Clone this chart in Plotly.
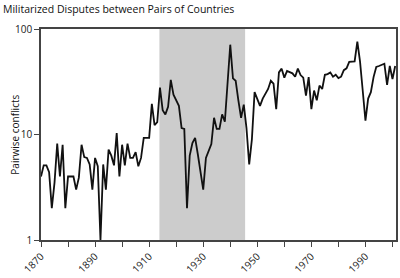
import plotly.graph_objects as go

start_year = 1870
conflicts = [
    4.0, 5.1, 5.1, 4.4, 2.0, 3.5, 8.2, 4.0, 8.0, 2.0,      # 1870-1879
    4.0, 4.0, 4.0, 3.0, 3.9, 8.0, 6.1, 6.0, 5.2, 3.0,      # 1880-1889
    6.0, 5.0, 1.0, 5.2, 3.0, 7.2, 6.3, 5.1, 10.3, 4.0,     # 1890-1899
    8.0, 5.1, 8.2, 6.0, 6.0, 6.8, 5.0, 6.0, 9.3, 9.3,      # 1900-1909
    9.3, 19.5, 12.3, 13.1, 27.8, 17.0, 15.5, 18.3, 33.0, 23.8,  # 1910-1919
    21.1, 18.7, 11.5, 11.3, 2.0, 6.3, 8.3, 9.3, 6.5, 4.4,  # 1920-1929
    3.0, 6.0, 7.0, 8.1, 14.4, 11.3, 11.3, 15.5, 13.2, 30.0,  # 1930-1939
    71.0, 34.0, 32.3, 21.1, 14.4, 19.2, 11.5, 5.2, 9.0, 25.2,  # 1940-1949
    21.9, 18.7, 21.9, 24.0, 27.0, 32.3, 30.3, 17.4, 38.8, 42.1,  # 1950-1959
    34.6, 40.1, 38.8, 38.0, 35.3, 42.1, 36.6, 34.6, 23.4, 35.0,  # 1960-1969
    17.4, 26.1, 21.1, 29.1, 27.0, 36.8, 37.4, 38.8, 35.3, 36.8,  # 1970-1979
    34.2, 35.3, 40.7, 42.4, 48.8, 49.0, 49.3, 76.0, 49.0, 26.0,  # 1980-1989
    13.5, 21.9, 25.2, 35.0, 43.7, 44.6, 45.5, 46.9, 29.5, 44.6,  # 1990-1999
    33.6, 44.6,                                             # 2000-2001
]
years = list(range(start_year, start_year + len(conflicts)))

war_period = (1913.8, 1945.5)
x_tick_vals = list(range(1870, 2001, 10))
x_tick_text = [str(v) if (v - 1870) % 20 == 0 else "" for v in x_tick_vals]
y_tick_vals = [1, 10, 100]
y_tick_text = ["1", "10", "100"]

fig = go.Figure()
fig.add_trace(go.Scatter(x=years, y=conflicts, mode="lines",
                         line=dict(color="#111111", width=1.8),
                         showlegend=False, hoverinfo="skip"))

fig.add_shape(type="rect", xref="x", yref="paper",
              x0=war_period[0], x1=war_period[1], y0=0, y1=1,
              fillcolor="#cccccc", line=dict(width=0), layer="below")

font_family = "Open Sans, Liberation Sans, sans-serif"
fig.update_layout(
    width=400, height=278,
    margin=dict(l=41, r=2, t=29, b=34),
    paper_bgcolor="white", plot_bgcolor="white",
    font=dict(family=font_family, size=10, color="#222222"),
    annotations=[
        dict(text="Militarized Disputes between Pairs of Countries",
             xref="paper", yref="paper", x=-40/357, y=1 + 20/215,
             xanchor="left", yanchor="middle", showarrow=False,
             font=dict(size=10.5, color="#111111")),
        dict(text="Pairwise conflicts", textangle=-90,
             xref="paper", yref="paper", x=-27/357, y=0.5,
             xanchor="center", yanchor="middle", showarrow=False,
             font=dict(size=10, color="#111111")),
    ],
)
fig.update_xaxes(
    range=[1870, 2001.3], tickvals=x_tick_vals, ticktext=x_tick_text,
    tickangle=-45, ticks="outside", ticklen=5, tickcolor="#444444",
    showline=True, linecolor="#444444", linewidth=1.5, mirror=True,
    showgrid=False, zeroline=False, tickfont=dict(size=10),
)
fig.update_yaxes(
    type="log", range=[0, 2], tickvals=y_tick_vals, ticktext=y_tick_text,
    ticks="outside", ticklen=5, tickcolor="#444444",
    showline=True, linecolor="#444444", linewidth=1.5, mirror=True,
    showgrid=False, zeroline=False, tickfont=dict(size=10),
)

fig.write_html("out.html")
